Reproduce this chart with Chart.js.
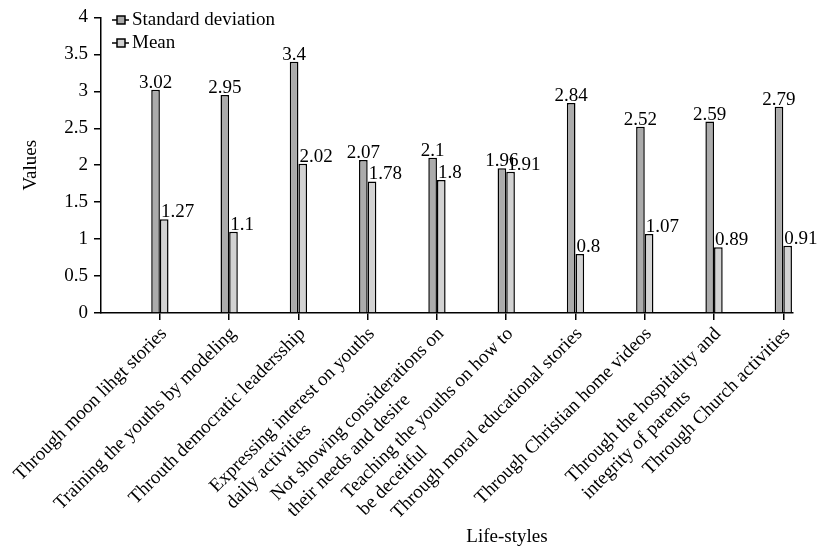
<!DOCTYPE html>
<html>
<head>
<meta charset="utf-8">
<script src="https://cdn.jsdelivr.net/npm/chart.js@4.4.0/dist/chart.umd.min.js"></script>
<style>
html,body{margin:0;padding:0;background:#fff;}
</style>
</head>
<body>
<canvas id="myChart" width="817" height="550"></canvas>
<script>
var lifeStyles = [
    "Through moon lihgt stories",
    "Training the youths by modeling",
    "Throuth democratic leadersship",
    ["Expressing interest on youths", "daily activities"],
    ["Not showing considerations on", "their needs and desire"],
    ["Teaching the youths on how to", "be deceitful"],
    "Through moral educational stories",
    "Through Christian home videos",
    ["Through the hospitality and", "integrity of parents"],
    "Through Church activities"
];

var SD_Name = "Standard deviation";
var SD_values = [3.02, 2.95, 3.4, 2.07, 2.1, 1.96, 2.84, 2.52, 2.59, 2.79];

var MEAN_Name = "Mean";
var MEAN_values = [1.27, 1.1, 2.02, 1.78, 1.8, 1.91, 0.8, 1.07, 0.89, 0.91];

var yTicks = [0, 0.5, 1, 1.5, 2, 2.5, 3, 3.5, 4];
var xTitle = "Life-styles";
var yTitle = "Values";

var FONT = "Liberation Serif";
var SD_color = "#ababab";
var MEAN_color = "#d2d2d2";

function toPoints(arr){ return arr.map(function(v, i){ return {x: i, y: v}; }); }

// value labels, rotated category labels, legend and x title
var drawExtras = {
    id: "drawExtras",
    afterDraw: function(chart){
        var ctx = chart.ctx;
        var xs = chart.scales.x;
        ctx.save();
        ctx.fillStyle = "#000";
        ctx.font = "19px '" + FONT + "'";

        chart.data.datasets.forEach(function(ds, di){
            var meta = chart.getDatasetMeta(di);
            meta.data.forEach(function(bar, i){
                var v = String(ds.data[i].y);
                ctx.textBaseline = "alphabetic";
                if (di === 0){ ctx.textAlign = "center"; ctx.fillText(v, bar.x, bar.y - 2); }
                else { ctx.textAlign = "left"; ctx.fillText(v, bar.x - bar.width / 2 + 1, bar.y - 2); }
            });
        });

        var lh = 23;
        lifeStyles.forEach(function(lab, i){
            var lines = Array.isArray(lab) ? lab : [lab];
            var w0 = ctx.measureText(lines[0]).width;
            ctx.save();
            ctx.translate(xs.getPixelForValue(i) + 4, xs.top + 18);
            ctx.rotate(-Math.PI / 4);
            ctx.textAlign = "left";
            ctx.textBaseline = "middle";
            lines.forEach(function(t, k){ ctx.fillText(t, -w0, k * lh); });
            ctx.restore();
        });

        ctx.textAlign = "center";
        ctx.textBaseline = "middle";
        ctx.fillText(xTitle, (xs.left + xs.right) / 2 + 60, 537);

        // legend
        chart.data.datasets.forEach(function(ds, di){
            var y = 20 + di * 23;
            ctx.strokeStyle = "#000";
            ctx.lineWidth = 1.5;
            ctx.beginPath(); ctx.moveTo(112, y); ctx.lineTo(129, y); ctx.stroke();
            ctx.fillStyle = ds.backgroundColor;
            ctx.fillRect(117, y - 4, 8, 8);
            ctx.strokeRect(117, y - 4, 8, 8);
            ctx.fillStyle = "#000";
            ctx.textAlign = "left";
            ctx.fillText(ds.label, 132, y);
        });
        ctx.restore();
    }
};

new Chart("myChart", {
    type: "bar",
    data: {
        datasets: [
        {
            label: SD_Name,
            data: toPoints(SD_values),
            backgroundColor: SD_color,
            borderColor: "#000",
            borderWidth: 1.5
        },
        {
            label: MEAN_Name,
            data: toPoints(MEAN_values),
            backgroundColor: MEAN_color,
            borderColor: "#000",
            borderWidth: 1.5
        }]
    },
    options: {
        responsive: false,
        animation: false,
        datasets: {bar: {barPercentage: 1, categoryPercentage: 0.25}},
        layout: {padding: {top: 17, right: 24, left: 0, bottom: 0}},
        plugins: {legend: {display: false}, tooltip: {enabled: false}},
        scales: {
            x: {
                type: "linear", min: -0.85, max: 9.14, offset: false,
                afterBuildTicks: function(s){ s.ticks = lifeStyles.map(function(_, i){ return {value: i}; }); },
                afterFit: function(s){ s.height = 237; },
                ticks: {display: false},
                grid: {offset: false, drawOnChartArea: false, drawTicks: true, tickLength: 7, color: "#000", lineWidth: 1.5},
                border: {color: "#000", width: 1.5}
            },
            y: {
                min: 0, max: 4,
                afterBuildTicks: function(s){ s.ticks = yTicks.map(function(v){ return {value: v}; }); },
                afterFit: function(s){ s.width = 101; },
                ticks: {color: "#000", font: {family: FONT, size: 19}, padding: 6, callback: function(v){ return String(v); }},
                grid: {drawOnChartArea: false, tickLength: 7, color: "#000", lineWidth: 1.5},
                border: {color: "#000", width: 1.5},
                title: {display: true, text: yTitle, color: "#000", font: {family: FONT, size: 19}, padding: {top: 20, bottom: 0}}
            }
        }
    },
    plugins: [drawExtras]
});
</script>
</body>
</html>
